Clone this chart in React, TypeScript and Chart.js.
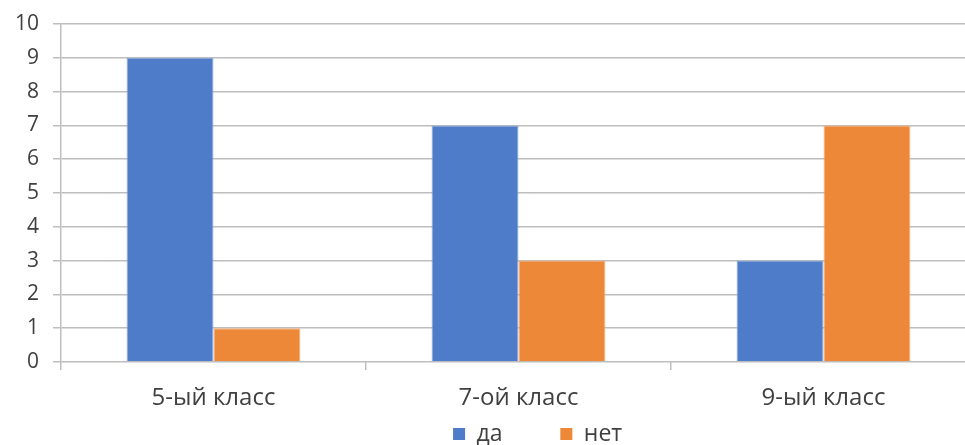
import React, { useEffect, useRef } from "react";
import { Chart, registerables } from "chart.js";

Chart.register(...registerables);

const categories = ["5-ый класс", "7-ой класс", "9-ый класс"];
const seriesNames = ["да", "нет"];
const daValues = [9, 7, 3];
const netValues = [1, 3, 7];
const yTicks = [0, 1, 2, 3, 4, 5, 6, 7, 8, 9, 10];

const FONT = "'Open Sans', 'Noto Sans', sans-serif";
const TEXT = "#404040";

export default function App() {
  const ref = useRef<HTMLCanvasElement | null>(null);

  useEffect(() => {
    if (!ref.current) return;
    const chart = new Chart(ref.current, {
      type: "bar",
      data: {
        labels: categories,
        datasets: [
          {
            label: seriesNames[0],
            data: daValues,
            backgroundColor: "#4E7CC8",
            borderColor: "#8FA9D8",
            borderWidth: 1,
            categoryPercentage: 0.57,
            barPercentage: 1,
          },
          {
            label: seriesNames[1],
            data: netValues,
            backgroundColor: "#EE8839",
            borderColor: "#F2B07E",
            borderWidth: 1,
            categoryPercentage: 0.57,
            barPercentage: 1,
          },
        ],
      },
      options: {
        animation: false,
        responsive: false,
        maintainAspectRatio: false,
        layout: { padding: { top: 24, left: 0, right: 0, bottom: -10.5 } },
        plugins: {
          tooltip: { enabled: false },
          legend: {
            position: "bottom",
            labels: {
              boxWidth: 12,
              boxHeight: 12,
              padding: 4,
              color: TEXT,
              font: { family: FONT, size: 23 },
              generateLabels: (c: any) => {
                const items = c.data.datasets.map((ds: any, i: number) => ({
                  text: i === 0 ? ds.label + "         " : ds.label,
                  fillStyle: ds.backgroundColor,
                  strokeStyle: ds.backgroundColor,
                  lineWidth: 0,
                  datasetIndex: i,
                  hidden: false,
                  fontColor: TEXT,
                }));
                return [
                  {
                    text: "            ",
                    fillStyle: "rgba(0,0,0,0)",
                    strokeStyle: "rgba(0,0,0,0)",
                    lineWidth: 0,
                    hidden: false,
                    fontColor: TEXT,
                  },
                  ...items,
                ];
              },
            },
          },
        },
        scales: {
          x: {
            afterFit: (s: any) => {
              s.height = 56.5;
            },
            grid: {
              offset: true,
              drawOnChartArea: false,
              drawTicks: true,
              tickLength: 8,
              color: "#BEBEBE",
              lineWidth: 1.5,
            },
            border: { display: false },
            ticks: {
              color: TEXT,
              font: { family: FONT, size: 24 },
              padding: 13.6,
            },
          },
          y: {
            min: 0,
            max: 10,
            afterBuildTicks: (s: any) => {
              s.ticks = yTicks.map((v) => ({ value: v }));
            },
            afterFit: (s: any) => {
              s.width = 61;
              s.paddingTop = 0;
              s.paddingBottom = 0;
            },
            grid: {
              color: "#BEBEBE",
              lineWidth: 1.5,
              drawTicks: true,
              tickLength: 8,
            },
            border: { display: true, color: "#BEBEBE", width: 1.5 },
            ticks: {
              color: TEXT,
              font: { family: FONT, size: 21 },
              padding: 14,
            },
          },
        },
      },
    });
    return () => chart.destroy();
  }, []);

  return (
    <div
      style={{
        position: "fixed",
        left: 0,
        top: 0,
        width: 965,
        height: 445,
        overflow: "hidden",
        background: "#fff",
      }}
    >
      <canvas ref={ref} width={976} height={445} style={{ width: 976, height: 445 }} />
    </div>
  );
}
